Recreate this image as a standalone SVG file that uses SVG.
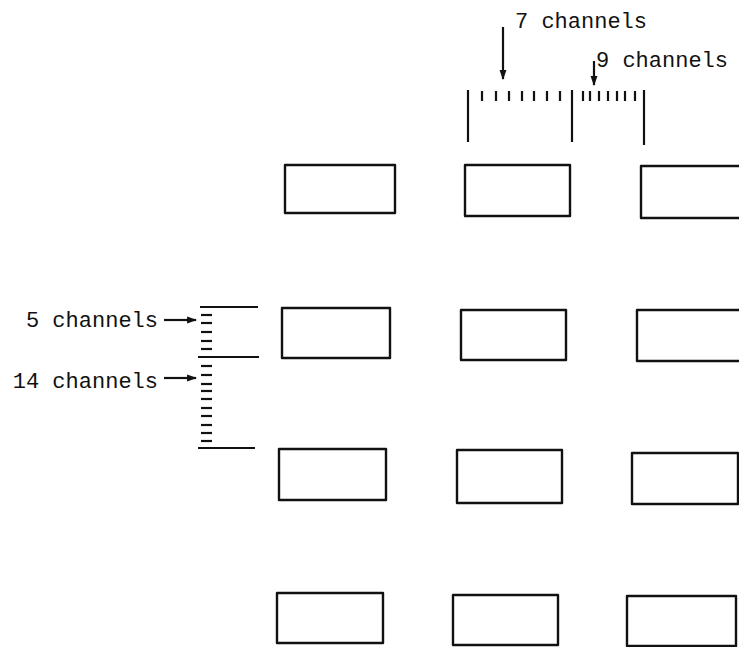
<svg xmlns="http://www.w3.org/2000/svg" width="739" height="647" viewBox="0 0 739 647">
<defs>
<style>
.box{fill:none;stroke:#111;stroke-width:2.4;stroke-linejoin:round}
.ln{stroke:#111;stroke-width:2.2;fill:none}
.tk{stroke:#111;stroke-width:2.2}
.lbl{font-family:"Liberation Mono","DejaVu Sans Mono",monospace;font-size:22px;fill:#111}
</style>
<marker id="ah" viewBox="0 0 10 10" refX="9" refY="5" markerWidth="4.5" markerHeight="4.5" orient="auto" markerUnits="strokeWidth">
<path d="M0,1.5 L10,5 L0,8.5 Z" fill="#111"/>
</marker>
</defs>
<rect width="739" height="647" fill="#fff"/>

<g id="box-r1c1"><rect class="box" x="285" y="165" width="110" height="48"/></g>
<g id="box-r1c2"><rect class="box" x="465" y="165" width="105" height="51"/></g>
<g id="box-r1c3"><rect class="box" x="641" y="166" width="110" height="52"/></g>
<g id="box-r2c1"><rect class="box" x="282" y="308" width="108" height="50"/></g>
<g id="box-r2c2"><rect class="box" x="461" y="310" width="105" height="50"/></g>
<g id="box-r2c3"><rect class="box" x="637" y="310" width="112" height="51"/></g>
<g id="box-r3c1"><rect class="box" x="279" y="449" width="107" height="51"/></g>
<g id="box-r3c2"><rect class="box" x="457" y="450" width="105" height="53"/></g>
<g id="box-r3c3"><rect class="box" x="632" y="453" width="106" height="51"/></g>
<g id="box-r4c1"><rect class="box" x="277" y="593" width="106" height="50"/></g>
<g id="box-r4c2"><rect class="box" x="453" y="595" width="105" height="50"/></g>
<g id="box-r4c3"><rect class="box" x="627" y="596" width="109" height="50"/></g>

<g id="top-scale">
<line class="ln" x1="468" y1="90" x2="468" y2="142"/>
<line class="ln" x1="572" y1="90" x2="572" y2="142"/>
<line class="ln" x1="644" y1="90" x2="644" y2="145"/>
<g class="tk">
<line x1="482" y1="91" x2="482" y2="101"/>
<line x1="496" y1="91" x2="496" y2="101"/>
<line x1="509" y1="91" x2="509" y2="101"/>
<line x1="522" y1="91" x2="522" y2="101"/>
<line x1="534" y1="91" x2="534" y2="101"/>
<line x1="547" y1="91" x2="547" y2="101"/>
<line x1="560" y1="91" x2="560" y2="101"/>
<line x1="583" y1="91" x2="583" y2="101"/>
<line x1="590" y1="91" x2="590" y2="101"/>
<line x1="599" y1="91" x2="599" y2="101"/>
<line x1="608" y1="91" x2="608" y2="101"/>
<line x1="617" y1="91" x2="617" y2="101"/>
<line x1="625" y1="91" x2="625" y2="101"/>
<line x1="635" y1="91" x2="635" y2="101"/>
</g>
</g>

<g id="left-scale">
<line class="ln" x1="200" y1="307" x2="258" y2="307"/>
<line class="ln" x1="198" y1="357" x2="259" y2="357"/>
<line class="ln" x1="198" y1="448" x2="255" y2="448"/>
<g class="tk">
<line x1="201" y1="315" x2="212" y2="315"/>
<line x1="201" y1="323" x2="212" y2="323"/>
<line x1="201" y1="332" x2="212" y2="332"/>
<line x1="201" y1="341" x2="212" y2="341"/>
<line x1="201" y1="349" x2="212" y2="349"/>
<line x1="201" y1="366" x2="212" y2="366"/>
<line x1="201" y1="375" x2="212" y2="375"/>
<line x1="201" y1="384" x2="212" y2="384"/>
<line x1="201" y1="391" x2="212" y2="391"/>
<line x1="201" y1="399" x2="212" y2="399"/>
<line x1="201" y1="408" x2="212" y2="408"/>
<line x1="201" y1="416" x2="212" y2="416"/>
<line x1="201" y1="425" x2="212" y2="425"/>
<line x1="201" y1="433" x2="212" y2="433"/>
<line x1="201" y1="441" x2="212" y2="441"/>
</g>
</g>

<g id="connectors">
<line class="ln" x1="503" y1="27" x2="503" y2="79" marker-end="url(#ah)"/>
<line class="ln" x1="594" y1="61" x2="594" y2="85" marker-end="url(#ah)"/>
<line class="ln" x1="164" y1="320" x2="196" y2="320" marker-end="url(#ah)"/>
<line class="ln" x1="164" y1="378" x2="196" y2="378" marker-end="url(#ah)"/>
</g>

<g id="labels">
<text class="lbl" x="515" y="28">7 channels</text>
<text class="lbl" x="596" y="67">9 channels</text>
<text class="lbl" x="158" y="327" text-anchor="end">5 channels</text>
<text class="lbl" x="158" y="388" text-anchor="end">14 channels</text>
</g>
</svg>
